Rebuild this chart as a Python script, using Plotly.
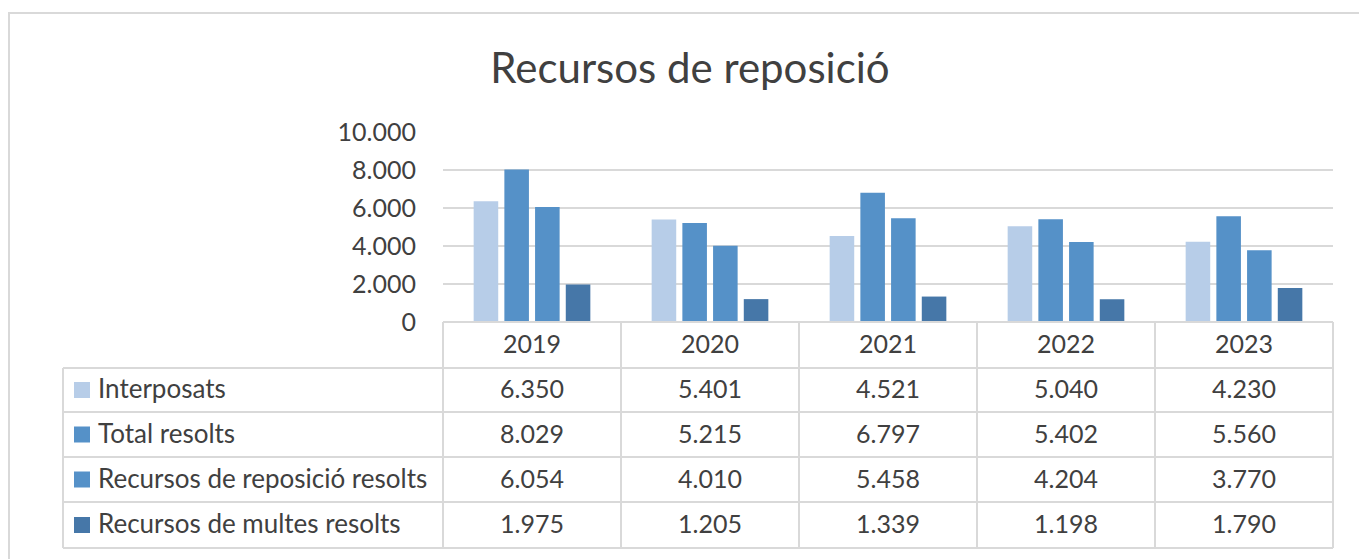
import plotly.graph_objects as go

# Data
years = ["2019", "2020", "2021", "2022", "2023"]
interposats = [6350, 5401, 4521, 5040, 4230]
total_resolts = [8029, 5215, 6797, 5402, 5560]
reposicio_resolts = [6054, 4010, 5458, 4204, 3770]
multes_resolts = [1975, 1205, 1339, 1198, 1790]

series_names = ["Interposats", "Total resolts", "Recursos de reposició resolts", "Recursos de multes resolts"]
series_values = [interposats, total_resolts, reposicio_resolts, multes_resolts]
colors = ["#B7CDE8", "#5591C8", "#5591C8", "#4677A8"]

W, H = 1359, 559
GRID = "#D9D9D9"
TXT = "#404040"
FONT = "Lato"
FS = 25
TEXT_LIFT = 2  # pixels to lift cell text so glyphs sit visually centred


def px(x):
    return x / W


def py(y):
    return 1 - y / H


def fmt(v):
    return f"{v:,}".replace(",", ".")


fig = go.Figure()
for name, vals, col in zip(series_names, series_values, colors):
    fig.add_trace(go.Bar(x=years, y=vals, name=name, marker_color=col,
                         marker_line_width=0, showlegend=False))

# Geometry of the plot area and the data table (pixels)
plot_left, plot_right = 443, 1333
plot_top, plot_bottom = 132, 322
table_left = 63
row_edges = [322, 368, 412, 457, 502, 548]
col_w = (plot_right - plot_left) / len(years)
col_edges = [plot_left + i * col_w for i in range(len(years) + 1)]

shapes = []
line = dict(color=GRID, width=2)
# outer chart frame
shapes.append(dict(type="rect", xref="paper", yref="paper",
                   x0=px(9), x1=px(1365), y0=py(570), y1=py(13),
                   line=dict(color=GRID, width=2), layer="below"))
# horizontal table lines
shapes.append(dict(type="line", xref="paper", yref="paper",
                   x0=px(plot_left), x1=px(plot_right), y0=py(row_edges[0]), y1=py(row_edges[0]), line=line))
for y in row_edges[1:]:
    shapes.append(dict(type="line", xref="paper", yref="paper",
                       x0=px(table_left), x1=px(plot_right), y0=py(y), y1=py(y), line=line))
# vertical table lines
shapes.append(dict(type="line", xref="paper", yref="paper",
                   x0=px(table_left), x1=px(table_left), y0=py(row_edges[1]), y1=py(row_edges[-1]), line=line))
for x in col_edges:
    shapes.append(dict(type="line", xref="paper", yref="paper",
                       x0=px(x), x1=px(x), y0=py(row_edges[0]), y1=py(row_edges[-1]), line=line))

annotations = []
# header row with years
for i, yr in enumerate(years):
    cx = (col_edges[i] + col_edges[i + 1]) / 2
    annotations.append(dict(xref="paper", yref="paper", x=px(cx),
                            y=py((row_edges[0] + row_edges[1]) / 2 - TEXT_LIFT),
                            text=yr, showarrow=False, xanchor="center", yanchor="middle",
                            font=dict(family=FONT, size=FS, color=TXT)))

# data rows with legend keys
for r, (name, vals, col) in enumerate(zip(series_names, series_values, colors)):
    top, bot = row_edges[r + 1], row_edges[r + 2]
    cy = (top + bot) / 2
    shapes.append(dict(type="rect", xref="paper", yref="paper",
                       x0=px(74), x1=px(90), y0=py(cy + 8), y1=py(cy - 8),
                       fillcolor=col, line=dict(width=0)))
    annotations.append(dict(xref="paper", yref="paper", x=px(96), y=py(cy - TEXT_LIFT),
                            text=name, showarrow=False, xanchor="left", yanchor="middle",
                            font=dict(family=FONT, size=FS + 1, color=TXT)))
    for i, v in enumerate(vals):
        cx = (col_edges[i] + col_edges[i + 1]) / 2
        annotations.append(dict(xref="paper", yref="paper", x=px(cx), y=py(cy - TEXT_LIFT),
                                text=fmt(v), showarrow=False, xanchor="center", yanchor="middle",
                                font=dict(family=FONT, size=FS, color=TXT)))

fig.update_layout(
    width=W, height=H,
    margin=dict(l=0, r=0, t=0, b=0, autoexpand=False),
    paper_bgcolor="white", plot_bgcolor="white",
    separators=",.",
    barmode="group", bargap=0.31, bargroupgap=0.2,
    title=dict(text="Recursos de reposició", x=px(690), xanchor="center",
               y=py(68), yanchor="middle",
               font=dict(family=FONT, size=42, color=TXT)),
    xaxis=dict(domain=[px(plot_left), px(plot_right)], showticklabels=False,
               showgrid=False, zeroline=False, showline=False, ticks=""),
    yaxis=dict(domain=[py(plot_bottom), py(plot_top)], range=[0, 10000],
               tickvals=[0, 2000, 4000, 6000, 8000, 10000], tickformat=",d",
               showgrid=True, gridcolor=GRID, gridwidth=2, zeroline=False,
               showline=False, ticks="", ticklabelstandoff=26,
               tickfont=dict(family=FONT, size=FS, color=TXT)),
    shapes=shapes,
    annotations=annotations,
)

fig.write_html("out.html")
